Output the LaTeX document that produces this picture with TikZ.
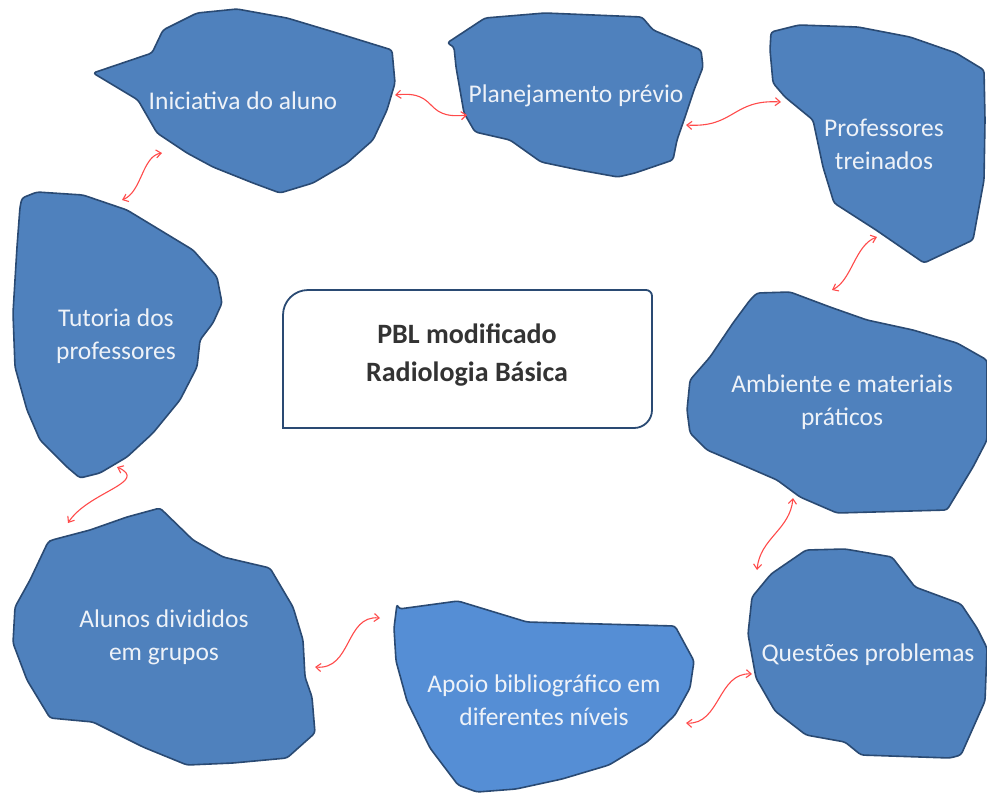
\documentclass[tikz,border=0pt]{standalone}
\usepackage{fontspec}
\setmainfont{Carlito}
\usetikzlibrary{arrows.meta}

\definecolor{blobfill}{HTML}{4F81BD}
\definecolor{blobline}{HTML}{2A4A73}
\definecolor{apoiofill}{HTML}{558ED5}
\definecolor{blobtext}{HTML}{EEF2F8}
\definecolor{linkred}{HTML}{FF4A4A}
\definecolor{pbltext}{HTML}{333333}

\tikzset{
  blob/.style={draw=blobline,fill=blobfill,line width=1.6pt,line join=round,rounded corners=3pt},
  blobtxt/.style={text=blobtext,align=center,font=\fontsize{25.5}{33}\selectfont},
  link/.style={draw=linkred,line width=1.1pt,{Straight Barb[length=5pt,width=8pt]}-{Straight Barb[length=5pt,width=8pt]}},
  pblbox/.style={draw=blobline,line width=1.8pt,fill=white}
}

\begin{document}
\begin{tikzpicture}[x=1pt,y=-1pt]
\useasboundingbox (0,0) rectangle (987,796);

\draw[blob] (93,73) -- (152,53) -- (163,30) -- (197,13) -- (237,9) -- (287,18) -- (337,33) -- (392,50) -- (395,83) -- (387,110) -- (373,140) -- (347,163) -- (313,183) -- (280,193) -- (253,183) -- (213,167) -- (187,153) -- (157,133) -- (142,107) -- (138,100) -- cycle;
\node[blobtxt] (ini) at (243,101) {Iniciativa do aluno};

\draw[blob] (447,43) -- (485,18) -- (545,13) -- (642,17) -- (653,30) -- (701,50) -- (703,67) -- (694,90) -- (684,120) -- (677,140) -- (673,160) -- (635,173) -- (618,177) -- (579,170) -- (541,162) -- (510,140) -- (475,132) -- (464,113) -- (456,67) -- (454,47) -- cycle;
\node[blobtxt] (plan) at (576,96) {Planejamento prévio};

\draw[blob] (771,32) -- (799,25) -- (858,27) -- (910,37) -- (956,53) -- (984,70) -- (985,120) -- (984,180) -- (973,240) -- (924,263) -- (876,230) -- (834,203) -- (823,167) -- (813,120) -- (785,97) -- (773,83) -- (770,50) -- cycle;
\node[blobtxt] (prof) at (884,144) {Professores\\treinados};

\draw[blob] (22,198) -- (37,192) -- (83,195) -- (127,210) -- (160,230) -- (193,250) -- (217,277) -- (222,303) -- (213,323) -- (200,340) -- (197,367) -- (180,400) -- (153,433) -- (127,457) -- (100,473) -- (80,478) -- (67,467) -- (40,440) -- (27,410) -- (15,367) -- (13,313) -- (17,247) -- (20,207) -- cycle;
\node[blobtxt] (tut) at (116,336) {Tutoria dos\\professores};

\draw[pblbox] (283,428) -- (283,315) arc[start angle=180,end angle=270,radius=25] -- (646,290) arc[start angle=270,end angle=360,radius=6] -- (652,410) arc[start angle=0,end angle=90,radius=18] -- cycle;
\node[align=center,text=pbltext,font=\bfseries\fontsize{28}{38}\selectfont] (pbl) at (467,355) {PBL modificado\\Radiologia Básica};

\draw[blob] (757,293) -- (790,292) -- (830,307) -- (867,320) -- (913,330) -- (957,343) -- (987,360) -- (987,440) -- (973,467) -- (947,510) -- (837,513) -- (800,497) -- (777,480) -- (747,467) -- (707,450) -- (690,433) -- (687,410) -- (690,380) -- (710,357) -- (733,323) -- (750,300) -- cycle;
\node[blobtxt] (amb) at (842,402) {Ambiente e materiais\\práticos};

\draw[blob] (752,597) -- (771,574) -- (806,550) -- (845,549) -- (892,557) -- (915,587) -- (961,604) -- (977,628) -- (987,648) -- (985,701) -- (961,755) -- (950,758) -- (861,755) -- (845,742) -- (806,735) -- (775,711) -- (756,678) -- (748,634) -- cycle;
\node[blobtxt] (quest) at (868,655) {Questões problemas};

\draw[blob,fill=apoiofill] (397,604) -- (399,609) -- (458,601) -- (527,622) -- (675,626) -- (694,661) -- (690,688) -- (675,715) -- (647,742) -- (609,765) -- (562,779) -- (516,789) -- (477,792) -- (458,785) -- (430,748) -- (407,701) -- (396,661) -- (394,628) -- cycle;
\node[blobtxt] (apoio) at (544,700) {Apoio bibliográfico em\\diferentes níveis};

\draw[blob] (48,542) -- (52,540) -- (90,530) -- (127,517) -- (160,508) -- (193,540) -- (223,557) -- (270,568) -- (293,607) -- (303,640) -- (305,677) -- (312,697) -- (315,733) -- (287,758) -- (233,763) -- (187,765) -- (143,747) -- (93,722) -- (50,718) -- (27,680) -- (13,643) -- (15,607) -- (30,580) -- cycle;
\node[blobtxt] (alun) at (164,637) {Alunos divididos\\em grupos};

\coordinate (ini-r) at (395,95);
\coordinate (plan-l) at (467,115);
\coordinate (plan-r) at (686,125);
\coordinate (prof-l) at (781,102);
\coordinate (prof-b) at (877,237);
\coordinate (amb-t) at (832,290);
\coordinate (amb-b) at (793,498);
\coordinate (quest-t) at (757,570);
\coordinate (quest-l) at (752,674);
\coordinate (apoio-r) at (686,723);
\coordinate (apoio-l) at (380,618);
\coordinate (alun-r) at (315,667);
\coordinate (tut-b) at (117,467);
\coordinate (alun-t) at (68,523);
\coordinate (ini-b) at (162,153);
\coordinate (tut-t) at (122,200);

\draw[link] (ini-r) .. controls (440,90) and (422,120) .. (plan-l);
\draw[link] (plan-r) .. controls (735,128) and (732,99) .. (prof-l);
\draw[link] (prof-b) .. controls (855,245) and (852,280) .. (amb-t);
\draw[link] (amb-b) .. controls (790,530) and (760,538) .. (quest-t);
\draw[link] (quest-l) .. controls (718,672) and (720,725) .. (apoio-r);
\draw[link] (apoio-l) .. controls (345,615) and (352,670) .. (alun-r);
\draw[link] (tut-b) .. controls (150,482) and (88,492) .. (alun-t);
\draw[link] (ini-b) .. controls (142,156) and (142,192) .. (tut-t);
\end{tikzpicture}
\end{document}
